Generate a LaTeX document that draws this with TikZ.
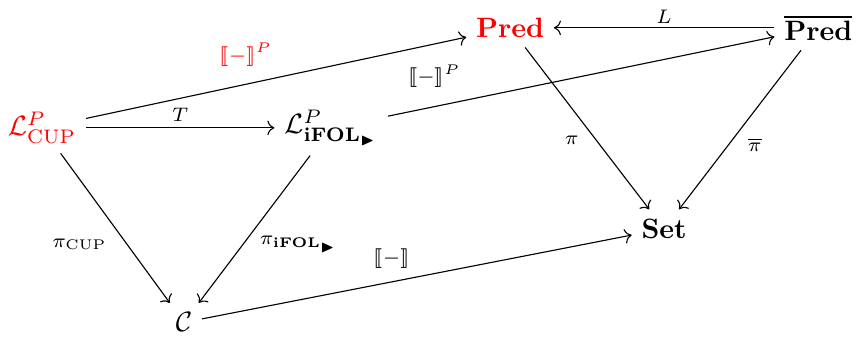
\documentclass[tikz,border=0pt]{standalone}
\usepackage{xcolor}
\usepackage{amsmath, amssymb}
\usepackage{stmaryrd}
\usepackage{tikz}
\usetikzlibrary{arrows.meta, positioning}

\begin{document}
\begin{tikzpicture}[lbl/.style={font=\scriptsize}]
	\useasboundingbox (0,0) rectangle (10.74,4.24);
	% objects
	\node (cup) at (0.527,2.636) {\color{red}$\mathcal{L}^P_{\mathrm{CUP}}$};
	\node (ifol) at (4.154,2.636) {$\mathcal{L}^P_{\mathbf{iFOL}_{\blacktriangleright}}$};
	\node (pred) at (6.40,3.891) {\color{red}$\mathbf{Pred}$};
	\node (predbar) at (10.266,3.891) {$\overline{\mathbf{Pred}}$};
	\node (set) at (8.333,1.37) {$\mathbf{Set}$};
	\node (cat) at (2.309,0.195) {$\mathcal{C}$};
	% arrows
	\draw[->] (cup) -- node[lbl, pos=0.42, yshift=10.6pt, red] {$\llbracket - \rrbracket^P$} (pred);
	\draw[->] (cup) -- node[lbl, yshift=4.8pt] {$T$} (ifol);
	\draw[->] (ifol) -- node[lbl, pos=0.12, yshift=10.9pt] {$\llbracket - \rrbracket^P$} (predbar);
	\draw[->] (predbar) -- node[lbl, yshift=3.9pt] {$L$} (pred);
	\draw[->] (pred) -- node[lbl, pos=0.574, xshift=-8.75pt] {$\pi$} (set);
	\draw[->] (predbar) -- node[lbl, pos=0.593, xshift=9.3pt] {$\overline{\pi}$} (set);
	\draw[->] (cup) -- node[lbl, pos=0.608, xshift=-17pt] {$\pi_{\mathrm{CUP}}$} (cat);
	\draw[->] (ifol) -- node[lbl, pos=0.604, xshift=20pt] {$\pi_{\mathbf{iFOL}_{\blacktriangleright}}$} (cat);
	\draw[->] (cat) -- node[lbl, pos=0.441, yshift=8.3pt] {$\llbracket - \rrbracket$} (set);
\end{tikzpicture}
\end{document}
